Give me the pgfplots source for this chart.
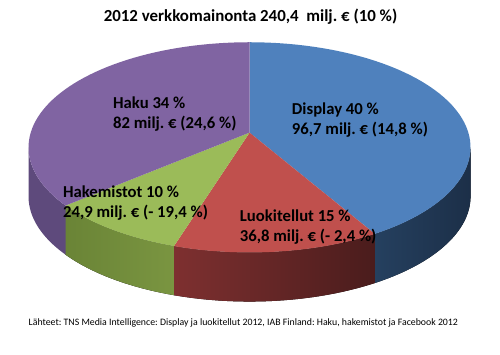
\documentclass[border=0pt]{standalone}
\usepackage{pgfplots}
\pgfplotsset{compat=1.18}
\usepackage{pgfplotstable}
\usepgfplotslibrary{fillbetween}
\usepackage{fontspec}
\setmainfont{Carlito}
\frenchspacing
\definecolor{cDisp}{HTML}{4F81BD}
\definecolor{cLuok}{HTML}{C0504D}
\definecolor{cHake}{HTML}{9BBB59}
\definecolor{cHaku}{HTML}{8064A2}
\definecolor{sDispL}{HTML}{25405F}
\definecolor{sDispR}{HTML}{1C2F48}
\definecolor{sLuokL}{HTML}{7E3030}
\definecolor{sLuokR}{HTML}{4A1C1C}
\definecolor{sHakeL}{HTML}{6A8436}
\definecolor{sHakeR}{HTML}{7A9541}
\definecolor{sHaku}{HTML}{5E4A7C}
\pgfplotstableread{
name pct
Display 40
Luokitellut 15
Hakemistot 10
Haku 34
}\piedata
\begin{document}
\pgfplotstablegetelem{0}{pct}\of\piedata\let\pA\pgfplotsretval
\pgfplotstablegetelem{1}{pct}\of\piedata\let\pB\pgfplotsretval
\pgfplotstablegetelem{2}{pct}\of\piedata\let\pC\pgfplotsretval
\pgfplotstablegetelem{3}{pct}\of\piedata\let\pD\pgfplotsretval
\pgfmathsetmacro{\tot}{\pA+\pB+\pC+\pD}
\pgfmathsetmacro{\aA}{\pA/\tot*360}
\pgfmathsetmacro{\aB}{(\pA+\pB)/\tot*360}
\pgfmathsetmacro{\aC}{(\pA+\pB+\pC)/\tot*360}
\begin{tikzpicture}
\begin{axis}[
  scale only axis, width=500pt, height=361pt,
  xmin=0, xmax=500, ymin=0, ymax=361, y dir=reverse,
  hide axis, clip=false, no markers,
  samples=60, variable=\t,
]
% side faces
\addplot[draw=none, name path=dt, domain=90:\aA] ({245+225*sin(\t)},{150-107*cos(\t)});
\addplot[draw=none, name path=db, domain=90:\aA] ({245+225*sin(\t)},{200-107*cos(\t)});
\addplot[left color=sDispL, right color=sDispR, draw=none] fill between[of=dt and db];
\addplot[draw=none, name path=lt, domain=\aA:\aB] ({245+225*sin(\t)},{150-107*cos(\t)});
\addplot[draw=none, name path=lb, domain=\aA:\aB] ({245+225*sin(\t)},{200-107*cos(\t)});
\addplot[left color=sLuokL, right color=sLuokR, draw=none] fill between[of=lt and lb];
\addplot[draw=none, name path=ht, domain=\aB:\aC] ({245+225*sin(\t)},{150-107*cos(\t)});
\addplot[draw=none, name path=hb, domain=\aB:\aC] ({245+225*sin(\t)},{200-107*cos(\t)});
\addplot[left color=sHakeL, right color=sHakeR, draw=none] fill between[of=ht and hb];
\addplot[draw=none, name path=kt, domain=\aC:270] ({245+225*sin(\t)},{150-107*cos(\t)});
\addplot[draw=none, name path=kb, domain=\aC:270] ({245+225*sin(\t)},{200-107*cos(\t)});
\addplot[fill=sHaku, draw=none] fill between[of=kt and kb];
% top faces
\addplot[fill=cDisp, draw=none, domain=0:\aA] ({245+225*sin(\t)},{150-107*cos(\t)}) -- (axis cs:245,135) -- cycle;
\addplot[fill=cLuok, draw=none, domain=\aA:\aB] ({245+225*sin(\t)},{150-107*cos(\t)}) -- (axis cs:245,135) -- cycle;
\addplot[fill=cHake, draw=none, domain=\aB:\aC] ({245+225*sin(\t)},{150-107*cos(\t)}) -- (axis cs:245,135) -- cycle;
\addplot[fill=cHaku, draw=none, domain=\aC:360] ({245+225*sin(\t)},{150-107*cos(\t)}) -- (axis cs:245,135) -- cycle;
% labels
\node[anchor=center, inner sep=0pt, font=\fontsize{17.2}{19}\selectfont\bfseries] at (axis cs:246,17) {2012 verkkomainonta 240,4\ \ milj. € (10 \%)};
\begin{scope}[every node/.style={anchor=west, align=left, inner sep=0pt, font=\fontsize{17}{20}\selectfont\bfseries}]
\node at (axis cs:288,122) {Display 40 \%\\96,7 milj. € (14,8 \%)};
\node at (axis cs:106,116) {Haku 34 \%\\82 milj. € (24,6 \%)};
\node at (axis cs:55,207) {Hakemistot 10 \%\\24,9 milj. € (- 19,4 \%)};
\node at (axis cs:235,231) {Luokitellut 15 \%\\36,8 milj. € (- 2,4 \%)};
\end{scope}
\node[anchor=west, inner sep=0pt, font=\fontsize{10}{12}\selectfont] at (axis cs:20,329) {Lähteet: TNS Media Intelligence: Display ja luokitellut 2012, IAB Finland: Haku, hakemistot ja Facebook 2012};
\end{axis}
\pgfresetboundingbox
\path[use as bounding box] (current axis.south west) rectangle (current axis.north east);
\end{tikzpicture}
\end{document}
